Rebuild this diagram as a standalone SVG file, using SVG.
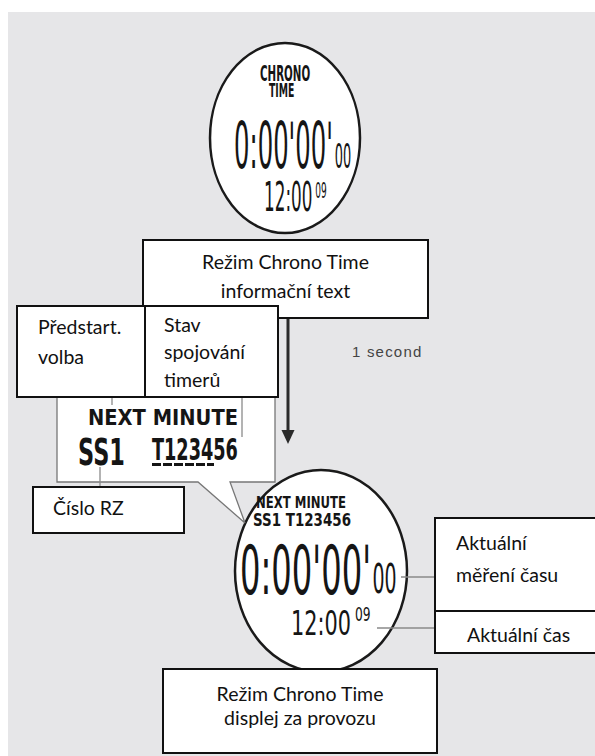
<svg xmlns="http://www.w3.org/2000/svg" width="595" height="756" viewBox="0 0 595 756">
<defs>
<style>
.lbl{font-family:Lato,"Liberation Sans",sans-serif;font-size:19.5px;fill:#111}
.box{fill:#fff;stroke:#111;stroke-width:2}
.con{stroke:#8a8a8a;stroke-width:1.3;fill:none}
.lcd{font-family:"DejaVu Sans",sans-serif;fill:#151515}
.lcdb{font-family:"DejaVu Sans",sans-serif;font-weight:bold;fill:#151515}
.watch{fill:#fff;stroke:#1a1a1a;stroke-width:2.5}
</style>
</defs>
<rect x="0" y="0" width="595" height="756" fill="#fff"/>
<rect x="8" y="12" width="587" height="744" fill="#e6e6e8"/>

<g id="watch-top">
<ellipse class="watch" cx="285" cy="138" rx="75" ry="95"/>
<text class="lcdb" transform="translate(260,81) scale(0.49,1)" font-size="21">CHRONO</text>
<text class="lcdb" transform="translate(269,97) scale(0.49,1)" font-size="19">TIME</text>
<text class="lcd" transform="translate(234,168) scale(0.38,1)" font-size="64">0:00'00'<tspan font-size="34" dx="5">00</tspan></text>
<text class="lcd" transform="translate(264,211) scale(0.41,1)" font-size="41">12:00<tspan font-size="22" dx="7" dy="-13">09</tspan></text>
</g>

<g id="watch-bottom">
<ellipse class="watch" cx="321" cy="571" rx="86" ry="101"/>
<text class="lcdb" x="256" y="508" font-size="15" textLength="90" lengthAdjust="spacingAndGlyphs">NEXT MINUTE</text>
<text class="lcdb" x="253" y="526" font-size="18" textLength="98" lengthAdjust="spacingAndGlyphs">SS1 T123456</text>
<text class="lcd" transform="translate(240,594) scale(0.474,1)" font-size="68">0:00'00'<tspan font-size="40" dx="3" dy="-1">00</tspan></text>
<text class="lcd" transform="translate(291,635) scale(0.613,1)" font-size="34">12:00<tspan font-size="20" dx="6.5" dy="-14">09</tspan></text>
</g>

<g id="bubble">
<path d="M57,397 L57,482 L198,482 L245,523 L230,482 L275,482 L275,397" fill="#fff" stroke="#777" stroke-width="1.3"/>
<text class="lcdb" x="88" y="425" font-size="21" textLength="150" lengthAdjust="spacingAndGlyphs">NEXT MINUTE</text>
<text class="lcdb" transform="translate(78,465) scale(0.59,1)" font-size="38">SS1<tspan x="125.4" dy="-5" font-size="30">T123456</tspan></text>
<line x1="152" y1="464.5" x2="214" y2="464.5" stroke="#151515" stroke-width="3" stroke-dasharray="9,2"/>
</g>

<g id="connectors">
<line class="con" x1="112" y1="397" x2="112" y2="405"/>
<line class="con" x1="242" y1="397" x2="242" y2="437"/>
<line class="con" x1="100" y1="467" x2="100" y2="487"/>
<line class="con" x1="401" y1="577" x2="435" y2="577"/>
<line class="con" x1="377" y1="628" x2="435" y2="628"/>
<line x1="288" y1="318" x2="288" y2="432" stroke="#2a2a2a" stroke-width="3"/>
<polygon points="281.5,430 294.5,430 288,444" fill="#2a2a2a"/>
<text x="352" y="357" font-family="'Liberation Sans',Arial,sans-serif" font-size="15" letter-spacing="1.2" fill="#444">1 second</text>
</g>

<g id="box-info">
<rect class="box" x="143" y="240" width="285" height="78"/>
<text class="lbl" x="285.5" y="269" text-anchor="middle">Režim Chrono Time</text>
<text class="lbl" x="285.5" y="298" text-anchor="middle">informační text</text>
</g>

<g id="box-predstart">
<rect class="box" x="17" y="306" width="261" height="91"/>
<line x1="145" y1="306" x2="145" y2="397" stroke="#111" stroke-width="2"/>
<text class="lbl" x="38" y="334">Předstart.</text>
<text class="lbl" x="38" y="364">volba</text>
<text class="lbl" x="164" y="332">Stav</text>
<text class="lbl" x="164" y="359">spojování</text>
<text class="lbl" x="164" y="387">timerů</text>
</g>

<g id="box-cislo">
<rect class="box" x="33" y="487" width="151" height="46"/>
<text class="lbl" x="53" y="515">Číslo RZ</text>
</g>

<g id="box-aktualni">
<rect class="box" x="435" y="518" width="170" height="135"/>
<line x1="435" y1="611" x2="595" y2="611" stroke="#111" stroke-width="2"/>
<text class="lbl" x="456" y="550">Aktuální</text>
<text class="lbl" x="456" y="582">měření času</text>
<text class="lbl" x="467" y="642">Aktuální čas</text>
</g>

<g id="box-display">
<rect class="box" x="163" y="669" width="274" height="84"/>
<text class="lbl" x="300" y="701" text-anchor="middle">Režim Chrono Time</text>
<text class="lbl" x="300" y="725" text-anchor="middle">displej za provozu</text>
</g>
</svg>
